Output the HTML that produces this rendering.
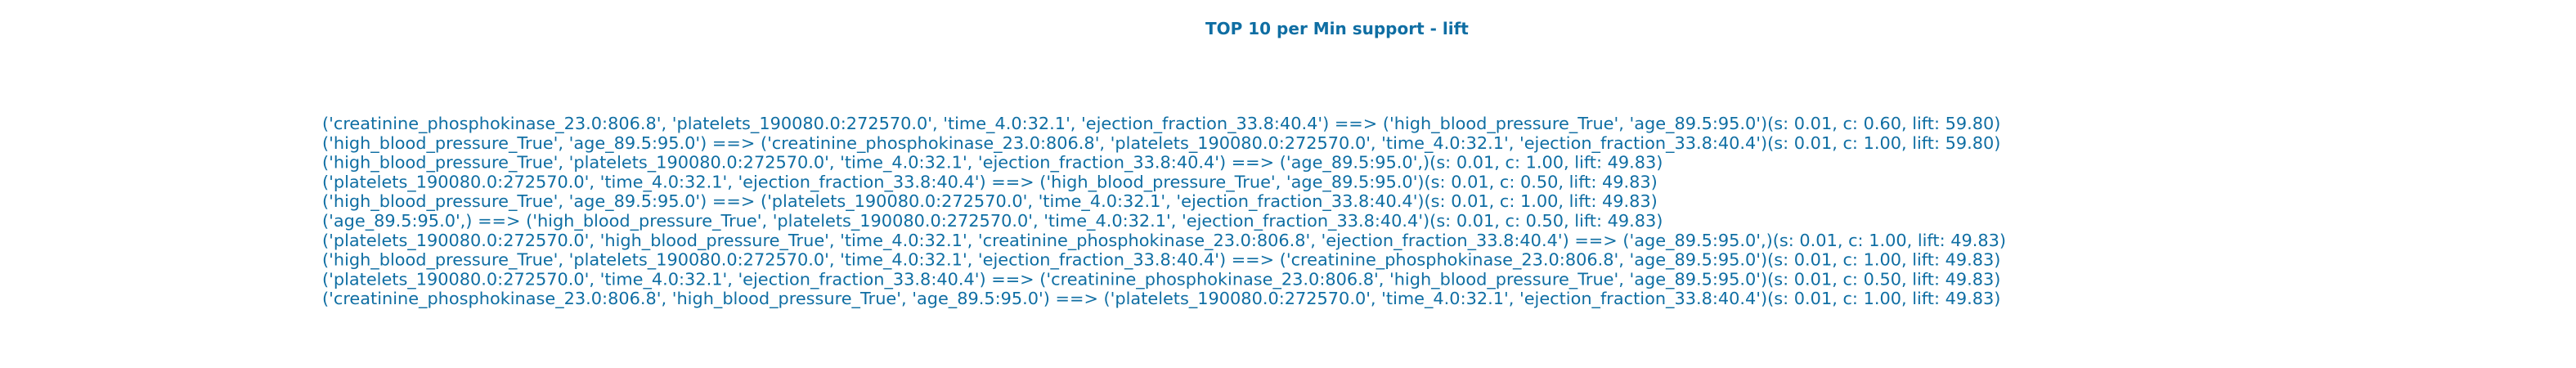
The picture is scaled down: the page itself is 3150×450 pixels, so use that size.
<!DOCTYPE html>
<html><head><meta charset="utf-8"><style>
html,body{margin:0;padding:0;background:#fff;width:3150px;height:450px;overflow:hidden}
svg text{font-family:"DejaVu Sans","Liberation Sans",sans-serif;fill:#0f6ea3}
</style></head><body>
<svg width="3150" height="450">
<text x="1474" y="42" font-size="20" font-weight="bold">TOP 10 per Min support - lift</text>
<g id="rules"></g>
</svg>
<script>
const rules = [
"('creatinine_phosphokinase_23.0:806.8', 'platelets_190080.0:272570.0', 'time_4.0:32.1', 'ejection_fraction_33.8:40.4') ==> ('high_blood_pressure_True', 'age_89.5:95.0')(s: 0.01, c: 0.60, lift: 59.80)",
"('high_blood_pressure_True', 'age_89.5:95.0') ==> ('creatinine_phosphokinase_23.0:806.8', 'platelets_190080.0:272570.0', 'time_4.0:32.1', 'ejection_fraction_33.8:40.4')(s: 0.01, c: 1.00, lift: 59.80)",
"('high_blood_pressure_True', 'platelets_190080.0:272570.0', 'time_4.0:32.1', 'ejection_fraction_33.8:40.4') ==> ('age_89.5:95.0',)(s: 0.01, c: 1.00, lift: 49.83)",
"('platelets_190080.0:272570.0', 'time_4.0:32.1', 'ejection_fraction_33.8:40.4') ==> ('high_blood_pressure_True', 'age_89.5:95.0')(s: 0.01, c: 0.50, lift: 49.83)",
"('high_blood_pressure_True', 'age_89.5:95.0') ==> ('platelets_190080.0:272570.0', 'time_4.0:32.1', 'ejection_fraction_33.8:40.4')(s: 0.01, c: 1.00, lift: 49.83)",
"('age_89.5:95.0',) ==> ('high_blood_pressure_True', 'platelets_190080.0:272570.0', 'time_4.0:32.1', 'ejection_fraction_33.8:40.4')(s: 0.01, c: 0.50, lift: 49.83)",
"('platelets_190080.0:272570.0', 'high_blood_pressure_True', 'time_4.0:32.1', 'creatinine_phosphokinase_23.0:806.8', 'ejection_fraction_33.8:40.4') ==> ('age_89.5:95.0',)(s: 0.01, c: 1.00, lift: 49.83)",
"('high_blood_pressure_True', 'platelets_190080.0:272570.0', 'time_4.0:32.1', 'ejection_fraction_33.8:40.4') ==> ('creatinine_phosphokinase_23.0:806.8', 'age_89.5:95.0')(s: 0.01, c: 1.00, lift: 49.83)",
"('platelets_190080.0:272570.0', 'time_4.0:32.1', 'ejection_fraction_33.8:40.4') ==> ('creatinine_phosphokinase_23.0:806.8', 'high_blood_pressure_True', 'age_89.5:95.0')(s: 0.01, c: 0.50, lift: 49.83)",
"('creatinine_phosphokinase_23.0:806.8', 'high_blood_pressure_True', 'age_89.5:95.0') ==> ('platelets_190080.0:272570.0', 'time_4.0:32.1', 'ejection_fraction_33.8:40.4')(s: 0.01, c: 1.00, lift: 49.83)"
];
const g = document.getElementById('rules');
const ns = 'http://www.w3.org/2000/svg';
rules.forEach((r, i) => {
  const t = document.createElementNS(ns, 'text');
  t.setAttribute('x', 394);
  t.setAttribute('y', 158 + i * 23.8);
  t.setAttribute('font-size', 20.85);
  t.textContent = r;
  
  
  g.appendChild(t);
});
</script>
</body></html>
